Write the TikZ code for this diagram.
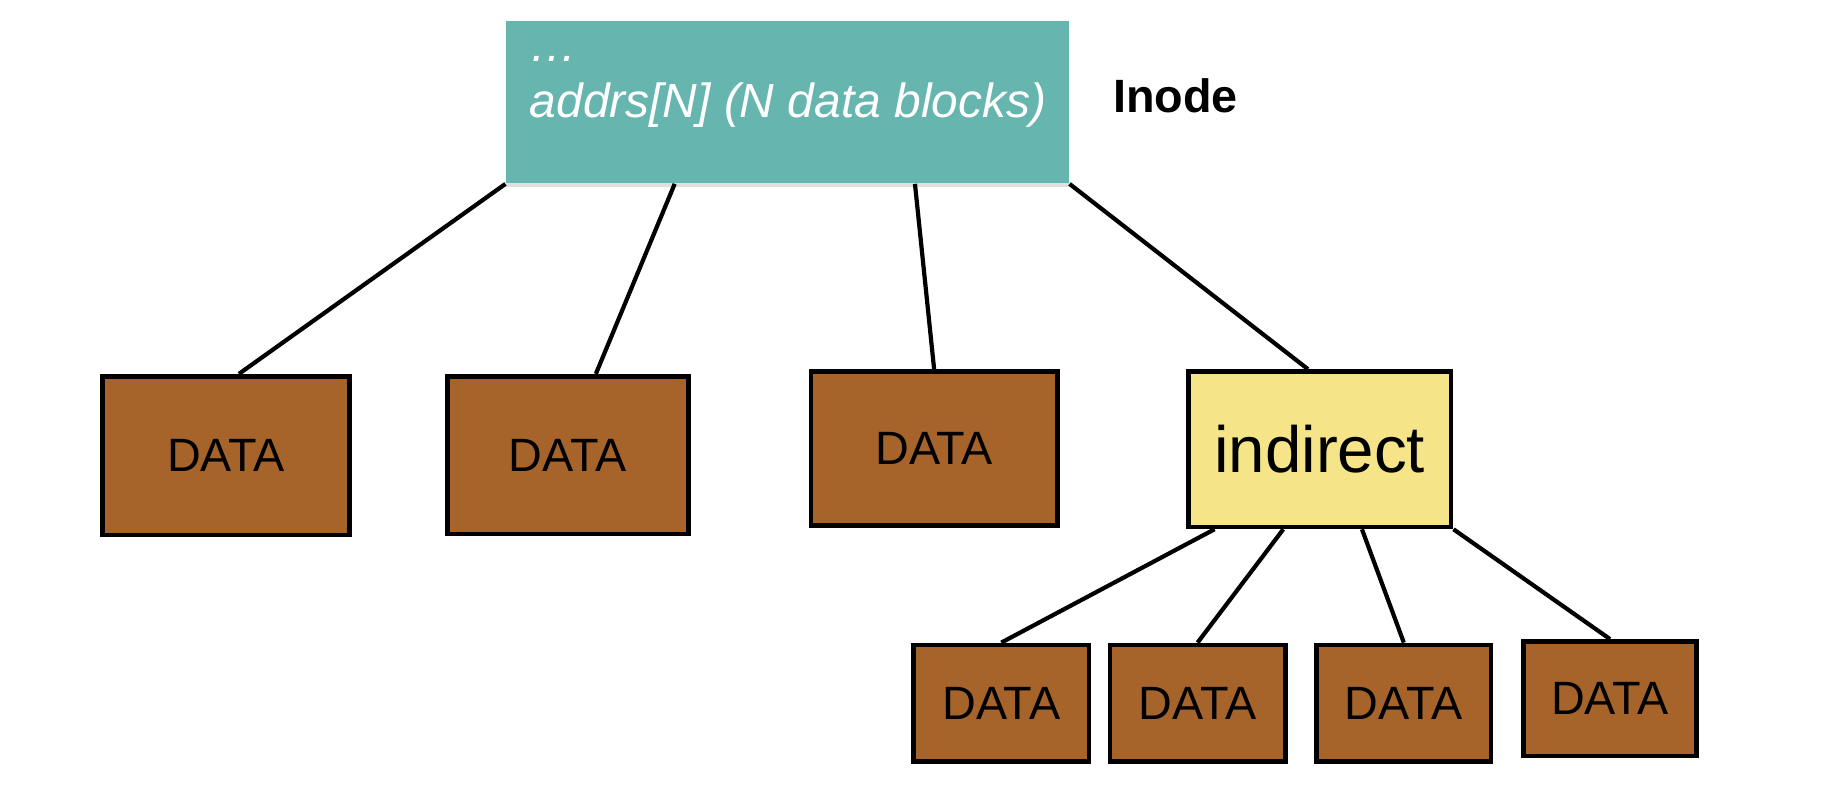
\documentclass[tikz,border=0pt]{standalone}
\usepackage{fontspec}
\setmainfont{Liberation Sans}
\usetikzlibrary{shadows,calc}
\definecolor{inodeteal}{HTML}{66B5AE}
\definecolor{databrown}{HTML}{A6642A}
\definecolor{indyellow}{HTML}{F5E488}
\begin{document}
\begin{tikzpicture}[x=0.5pt, y=-0.5pt]
    \tikzset{
        datablk/.style={rectangle, line width=2pt, draw=black, fill=databrown, inner sep=0pt, font=\fontsize{20}{24}\selectfont},
        indblk/.style={rectangle, line width=2pt, draw=black, fill=indyellow, inner sep=0pt, minimum width=112.5pt, minimum height=66.5pt, font=\fontsize{28}{32}\selectfont},
        inodeblk/.style={rectangle, fill=inodeteal, minimum width=241pt, minimum height=69.5pt, drop shadow={opacity=0.25, shadow xshift=0pt, shadow yshift=-1.5pt}},
        link/.style={line width=1.8pt, draw=black}
    }
    \useasboundingbox (0,0) rectangle (1568,672);
    % Inode with its address fields:
    \node[inodeblk] (inode) at (674, 87.5) {};
    \node[anchor=west, align=left, text=white, inner sep=0pt, font=\fontsize{20.5}{24}\selectfont\itshape] (fields) at (453, 79) {\ldots\\addrs[N] (N data blocks)};
    \node[font=\fontsize{20}{24}\selectfont\bfseries] (inodelbl) at (1006, 82) {Inode};

    % Direct data blocks and the indirect block:
    \node[datablk, minimum width=105.5pt, minimum height=68pt] (d1) at (193.5, 390) {DATA};
    \node[datablk, minimum width=103pt, minimum height=67.5pt] (d2) at (486, 389.5) {DATA};
    \node[datablk, minimum width=105.5pt, minimum height=66pt] (d3) at (799.5, 384) {DATA};
    \node[indblk] (ind) at (1129.5, 384.5) {indirect};
    \draw[link] (inode.south west) -- ($(d1.north)+(11,0)$);
    \draw[link] ($(inode.south west)!0.3!(inode.south east)$) -- ($(d2.north)+(24,0)$);
    \draw[link] ($(inode.south west)!0.726!(inode.south east)$) -- (d3.north);
    \draw[link] (inode.south east) -- ($(ind.north)+(-10,0)$);

    % Blocks behind the indirect block:
    \node[datablk, minimum width=75pt, minimum height=50pt] (b1) at (857, 602) {DATA};
    \node[datablk, minimum width=75pt, minimum height=50pt] (b2) at (1025, 602) {DATA};
    \node[datablk, minimum width=74.5pt, minimum height=50pt] (b3) at (1201.5, 602) {DATA};
    \node[datablk, minimum width=74pt, minimum height=49pt] (b4) at (1378, 598) {DATA};
    \draw[link] ($(ind.south west)!0.107!(ind.south east)$) -- (b1.north);
    \draw[link] ($(ind.south west)!0.364!(ind.south east)$) -- (b2.north);
    \draw[link] ($(ind.south west)!0.658!(ind.south east)$) -- (b3.north);
    \draw[link] (ind.south east) -- (b4.north);
\end{tikzpicture}
\end{document}
